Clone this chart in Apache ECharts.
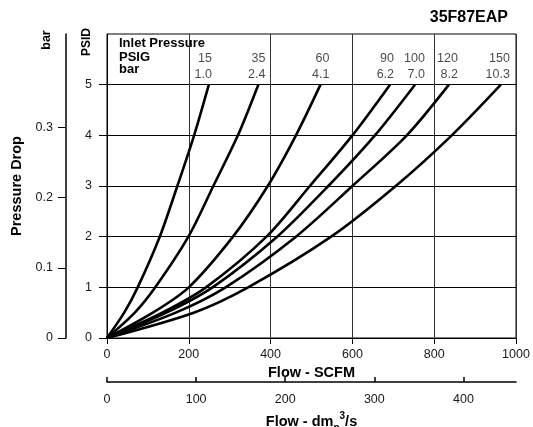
<!DOCTYPE html>
<html><head><meta charset="utf-8">
<script src="https://cdn.jsdelivr.net/npm/echarts@6/dist/echarts.min.js"></script>
<style>html,body{margin:0;padding:0;background:#fff}#c{width:533px;height:427px}</style>
</head><body><div id="c"></div>
<script>
// ---- data ----
const psidLevels = [0, 0.5, 1, 2, 3, 4, 5];
const flow15  = [0, 42, 75, 129, 172, 213, 249];
const flow35  = [0, 68, 118, 199, 260, 320, 370];
const flow60  = [0, 112, 200, 308, 393, 462, 522];
const flow90  = [0, 135, 242, 390, 496, 600, 692];
const flow100 = [0, 145, 258, 416, 541, 655, 753];
const flow120 = [0, 168, 290, 462, 600, 733, 836];
const flow150 = [0, 212, 345, 548, 706, 843, 963];
const inletPsig = ['15', '35', '60', '90', '100', '120', '150'];
const inletBar = ['1.0', '2.4', '4.1', '6.2', '7.0', '8.2', '10.3'];
const psidTicks = [0, 1, 2, 3, 4, 5];
const barTicks = [0, 0.1, 0.2, 0.3];
const dmTicks = [0, 100, 200, 300, 400];

// ---- styling / layout ----
const curves = [flow15, flow35, flow60, flow90, flow100, flow120, flow150];
const labelDx = [4, 8, 10, 5, 11, 10, 10];
const FONT = "'Liberation Sans', Arial, sans-serif";
const TXT = '#1a1a1a';

const chart = echarts.init(document.getElementById('c'), null, {renderer: 'canvas'});

const lineSeries = curves.map((fl, i) => ({
  type: 'line',
  name: inletPsig[i],
  xAxisIndex: 0, yAxisIndex: 0,
  data: psidLevels.map((p, j) => [fl[j], p]),
  smooth: 0.3,
  showSymbol: false,
  silent: true,
  lineStyle: {color: '#000', width: 2.6},
  z: 5
}));

const labelSeries = {
  type: 'scatter',
  xAxisIndex: 0, yAxisIndex: 0,
  symbolSize: 2,
  silent: true,
  itemStyle: {color: 'rgba(0,0,0,0)'},
  data: curves.map((fl, i) => ({
    value: [fl[fl.length - 1], psidLevels[psidLevels.length - 1]],
    label: {
      show: true,
      position: [labelDx[i], -1],
      align: 'right',
      verticalAlign: 'bottom',
      formatter: inletPsig[i] + '\n' + inletBar[i],
      lineHeight: 16,
      fontSize: 12.5,
      fontFamily: FONT,
      color: TXT
    }
  }))
};

const boldText = (text, x, y, size, extra) => ({
  type: 'text', x: x, y: y, silent: true,
  style: Object.assign({text: text, fill: '#000', font: 'bold ' + size + 'px ' + FONT,
    align: 'left', verticalAlign: 'middle', textAlign: 'left', textVerticalAlign: 'middle'}, extra || {})
});

const plain = v => String(v);

const option = {
  animation: false,
  textStyle: {fontFamily: FONT},
  grid: {left: 107, top: 34, width: 409, height: 304, show: true, borderColor: '#000', borderWidth: 1,
    containLabel: false, outerBoundsMode: 'none'},
  xAxis: [{
    type: 'value', min: 0, max: 1000, interval: 200,
    axisLine: {show: true, onZero: false, lineStyle: {color: '#000', width: 1}},
    axisTick: {show: true, length: 6, lineStyle: {color: '#000'}},
    axisLabel: {margin: 10, fontSize: 12.5, color: TXT, fontFamily: FONT, formatter: plain},
    splitLine: {show: true, lineStyle: {color: '#333', width: 1}},
    name: 'Flow - SCFM', nameLocation: 'middle', nameGap: 20,
    nameTextStyle: {fontWeight: 'bold', fontSize: 14.5, color: '#000', fontFamily: FONT}
  }, {
    type: 'value', min: 0, max: 459, position: 'bottom', offset: 44,
    axisLine: {show: true, onZero: false, lineStyle: {color: '#000', width: 1.5}},
    axisTick: {show: true, inside: true, length: 5, customValues: dmTicks, lineStyle: {color: '#000', width: 1.5}},
    axisLabel: {margin: 11, fontSize: 12.5, color: TXT, fontFamily: FONT, customValues: dmTicks, formatter: plain},
    splitLine: {show: false},
    name: '{t|Flow - dm}{s|n}{p|3}{t|/s}', nameLocation: 'middle', nameGap: 20,
    nameTextStyle: {
      fontFamily: FONT,
      rich: {
        t: {fontWeight: 'bold', fontSize: 14.5, color: '#000', lineHeight: 22, verticalAlign: 'middle', fontFamily: FONT},
        s: {fontWeight: 'bold', fontSize: 10, color: '#000', lineHeight: 10, verticalAlign: 'bottom', fontFamily: FONT},
        p: {fontWeight: 'bold', fontSize: 10, color: '#000', lineHeight: 10, verticalAlign: 'top', fontFamily: FONT}
      }
    }
  }],
  yAxis: [{
    type: 'value', min: 0, max: 6, interval: 1,
    axisLine: {show: true, onZero: false, lineStyle: {color: '#000', width: 1}},
    axisTick: {show: true, length: 8, customValues: psidTicks, lineStyle: {color: '#000'}},
    axisLabel: {margin: 15, fontSize: 12.5, color: TXT, fontFamily: FONT, customValues: psidTicks},
    splitLine: {show: true, lineStyle: {color: '#000', width: 1}}
  }, {
    type: 'value', min: 0, max: 0.433, position: 'left', offset: 41,
    axisLine: {show: true, onZero: false, lineStyle: {color: '#000', width: 1.5}},
    axisTick: {show: true, length: 8, customValues: barTicks, lineStyle: {color: '#000', width: 1}},
    axisLabel: {margin: 13, fontSize: 12.5, color: TXT, fontFamily: FONT, customValues: barTicks,
      formatter: v => (v === 0 ? '0' : v.toFixed(1))},
    splitLine: {show: false},
    name: 'Pressure Drop', nameLocation: 'middle', nameGap: 41,
    nameTextStyle: {fontWeight: 'bold', fontSize: 14.5, color: '#000', fontFamily: FONT}
  }],
  graphic: [
    boldText('35F87EAP', 508, 18, 16, {align: 'right', textAlign: 'right'}),
    boldText('Inlet Pressure', 119, 43.5, 13),
    boldText('PSIG', 119, 57.5, 13),
    boldText('bar', 119, 69, 13),
    Object.assign(boldText('PSID', 87, 42, 12, {align: 'center', textAlign: 'center'}), {rotation: Math.PI / 2}),
    Object.assign(boldText('bar', 47, 40, 12.5, {align: 'center', textAlign: 'center'}), {rotation: Math.PI / 2})
  ],
  series: lineSeries.concat([labelSeries])
};
chart.setOption(option);
</script>
</body></html>
